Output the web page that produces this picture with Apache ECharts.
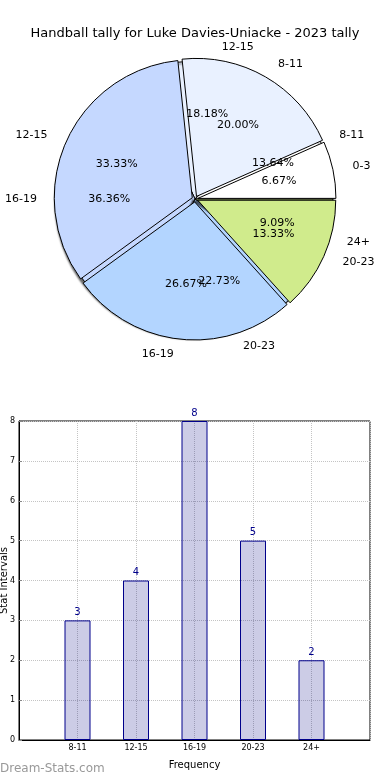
<!DOCTYPE html>
<html>
<head>
<meta charset="utf-8">
<script src="https://cdn.jsdelivr.net/npm/echarts@6/dist/echarts.min.js"></script>
<style>html,body{margin:0;padding:0;background:#fff}#c{width:390px;height:780px}</style>
</head>
<body>
<div id="c"></div>
<script>
// Pie A (top layer)
var pieACats = ['0-3', '8-11', '12-15', '16-19', '20-23'];
var pieAVals = [1, 3, 5, 4, 2];
// Pie B (bottom layer) and bar chart
var pieBCats = ['8-11', '12-15', '16-19', '20-23', '24+'];
var pieBVals = [3, 4, 8, 5, 2];
var pieColors = ['#ffffff', '#e9f1ff', '#c5d8ff', '#b3d5ff', '#d0eb8c'];
var barCats = ['', '8-11', '12-15', '16-19', '20-23', '24+', ''];
var barVals = ['-', 3, 4, 8, 5, 2, '-'];
var yTicks = [0, 1, 2, 3, 4, 5, 6, 7, 8];

var FONT = 'DejaVu Sans';
var CX = 195, CY = 199, R = 138;

function pieData(cats, vals, sel) {
  return cats.map(function (c, i) {
    return { name: c, value: vals[i], selected: !!sel, itemStyle: { color: pieColors[i] } };
  });
}
function outerPie(cats, vals, z, sel, shadow) {
  return {
    type: 'pie', z: z, center: [CX, CY], radius: [0, R],
    startAngle: 0, clockwise: false, avoidLabelOverlap: false,
    selectedMode: sel ? 'multiple' : false, selectedOffset: 3,
    animation: false, silent: true,
    itemStyle: Object.assign({ borderColor: '#000', borderWidth: 1 },
      shadow ? { shadowColor: 'rgba(0,0,0,0.6)', shadowBlur: 2, shadowOffsetX: -2, shadowOffsetY: 2 } : {}),
    label: { show: true, position: 'outside', fontFamily: FONT, fontSize: 11, color: '#000', formatter: '{b}' },
    labelLine: { show: false, length: 15, length2: 0 },
    labelLayout: { hideOverlap: false },
    data: pieData(cats, vals, sel)
  };
}
function pctPie(cats, vals, z) {
  return {
    type: 'pie', z: z, center: [CX, CY], radius: [0, R * 1.2],
    startAngle: 0, clockwise: false, avoidLabelOverlap: false,
    animation: false, silent: true,
    itemStyle: { color: 'rgba(0,0,0,0)', borderWidth: 0 },
    label: { show: true, position: 'inside', fontFamily: FONT, fontSize: 11, color: '#000',
      formatter: function (p) { return p.percent.toFixed(2) + '%'; } },
    labelLine: { show: false },
    labelLayout: { hideOverlap: false },
    data: cats.map(function (c, i) { return { name: c, value: vals[i] }; })
  };
}

var chart = echarts.init(document.getElementById('c'), null, { renderer: 'canvas' });
chart.setOption({
  animation: false,
  title: {
    text: 'Handball tally for Luke Davies-Uniacke - 2023 tally',
    left: 'center', top: 22,
    textStyle: { fontFamily: FONT, fontSize: 13, fontWeight: 'normal', color: '#000' }
  },
  graphic: [{
    type: 'text', left: 0, top: 763,
    style: { text: 'Dream-Stats.com', fontFamily: FONT, fontSize: 12, fill: '#999' }
  }],
  grid: { left: 19, right: 20, top: 421, bottom: 40, containLabel: false, outerBoundsMode: 'none',
    show: true, borderColor: '#000', borderWidth: 1, backgroundColor: 'transparent' },
  xAxis: {
    type: 'category', data: barCats, boundaryGap: false,
    name: 'Frequency', nameLocation: 'middle', nameGap: 20, nameMoveOverlap: false,
    nameTextStyle: { fontFamily: FONT, fontSize: 10, color: '#000' },
    axisLine: { lineStyle: { color: '#000' } },
    axisTick: { show: false },
    axisLabel: { fontFamily: FONT, fontSize: 8, color: '#000', margin: 4, interval: 0 },
    splitLine: { show: true, interval: 0, lineStyle: { color: '#c4c4c4', type: 'dotted', width: 1 } }
  },
  yAxis: {
    type: 'value', min: yTicks[0], max: yTicks[yTicks.length - 1], interval: 1,
    name: 'Stat Intervals', nameLocation: 'middle', nameGap: 10, nameMoveOverlap: false,
    nameTextStyle: { fontFamily: FONT, fontSize: 10, color: '#000' },
    axisLine: { show: true, lineStyle: { color: '#000' } },
    axisTick: { show: true, inside: true, length: 3, lineStyle: { color: '#888' } },
    axisLabel: { fontFamily: FONT, fontSize: 8, color: '#000', margin: 4 },
    splitLine: { show: true, lineStyle: { color: '#c4c4c4', type: 'dotted', width: 1 } }
  },
  series: [
    outerPie(pieBCats, pieBVals, 1, false, true),
    outerPie(pieACats, pieAVals, 2, true, false),
    pctPie(pieBCats, pieBVals, 3),
    pctPie(pieACats, pieAVals, 4),
    {
      type: 'bar', data: barVals, barWidth: 26,
      itemStyle: { color: 'rgba(0,0,128,0.2)', borderColor: '#00008b', borderWidth: 1 },
      label: { show: true, position: 'top', distance: 3, fontFamily: FONT, fontSize: 10, color: '#00008b' }
    }
  ]
});
</script>
</body>
</html>
